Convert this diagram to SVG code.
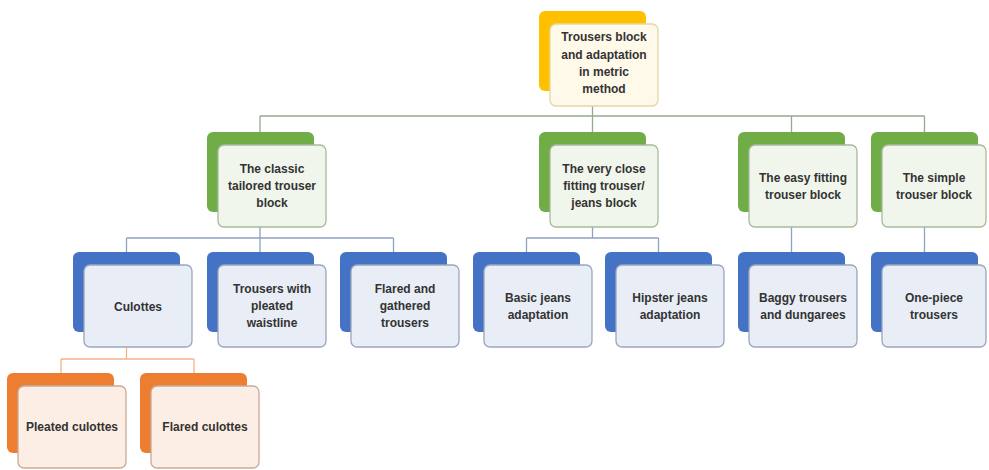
<svg xmlns="http://www.w3.org/2000/svg" width="989" height="470" viewBox="0 0 989 470">
<style>
text{font-family:"Liberation Sans",Arial,sans-serif;font-size:12px;font-weight:bold;fill:#333;text-anchor:middle}
.by{fill:#FFC000}.fy{fill:#FFF9EA;stroke:#E3D6A6;stroke-width:1.3}
.bg{fill:#70AD47}.fg{fill:#F1F6EC;stroke:#A9B99E;stroke-width:1.3}
.bb{fill:#4472C4}.fb{fill:#E8EDF6;stroke:#9BA6BC;stroke-width:1.3}
.bo{fill:#ED7D31}.fo{fill:#FCEEE4;stroke:#C8AB96;stroke-width:1.3}
.c1{stroke:#96A88E;stroke-width:1.3;fill:none}
.c2{stroke:#8FA0C4;stroke-width:1.3;fill:none}
.c3{stroke:#F2B48A;stroke-width:1.3;fill:none}
</style>
<rect width="989" height="470" fill="#fff"/>
<g id="connectors">
<path class="c1" d="M592.5 106V116M260 116H924.5M260 116V132M592.5 116V132M791.5 116V132M924.5 116V132"/>
<path class="c2" d="M260 227V238M126.5 238H393.5M126.5 238V252M260 238V252M393.5 238V252M592.5 227V238M526.5 238H658.5M526.5 238V252M658.5 238V252M791.5 227V252M924.5 227V252"/>
<path class="c3" d="M126.5 348V359M61 359H194M61 359V373M194 359V373"/>
</g>
<g id="n-root"><rect class="by" x="539" y="11" width="107" height="80" rx="6"/><rect class="fy" x="550" y="24" width="108" height="82" rx="6"/>
<text x="604" y="41">Trousers block</text><text x="604" y="59">and adaptation</text><text x="604" y="76">in metric</text><text x="604" y="93">method</text></g>
<g id="n-classic"><rect class="bg" x="207" y="132" width="107" height="80" rx="6"/><rect class="fg" x="218" y="145" width="108" height="82" rx="6"/>
<text x="272" y="173">The classic</text><text x="272" y="190">tailored trouser</text><text x="272" y="207">block</text></g>
<g id="n-close"><rect class="bg" x="539" y="132" width="107" height="80" rx="6"/><rect class="fg" x="550" y="145" width="108" height="82" rx="6"/>
<text x="604" y="173">The very close</text><text x="604" y="190">fitting trouser/</text><text x="604" y="207">jeans block</text></g>
<g id="n-easy"><rect class="bg" x="738" y="132" width="107" height="80" rx="6"/><rect class="fg" x="749" y="145" width="108" height="82" rx="6"/>
<text x="803" y="182">The easy fitting</text><text x="803" y="199">trouser block</text></g>
<g id="n-simple"><rect class="bg" x="871" y="132" width="107" height="80" rx="6"/><rect class="fg" x="882" y="145" width="104" height="82" rx="6"/>
<text x="934" y="182">The simple</text><text x="934" y="199">trouser block</text></g>
<g id="n-culottes"><rect class="bb" x="73" y="252" width="107" height="80" rx="6"/><rect class="fb" x="84" y="265" width="108" height="82" rx="6"/>
<text x="138" y="311">Culottes</text></g>
<g id="n-pleatedwaist"><rect class="bb" x="207" y="252" width="107" height="80" rx="6"/><rect class="fb" x="218" y="265" width="108" height="82" rx="6"/>
<text x="272" y="293">Trousers with</text><text x="272" y="310">pleated</text><text x="272" y="327">waistline</text></g>
<g id="n-flaredgathered"><rect class="bb" x="340" y="252" width="107" height="80" rx="6"/><rect class="fb" x="351" y="265" width="108" height="82" rx="6"/>
<text x="405" y="293">Flared and</text><text x="405" y="310">gathered</text><text x="405" y="327">trousers</text></g>
<g id="n-basicjeans"><rect class="bb" x="473" y="252" width="107" height="80" rx="6"/><rect class="fb" x="484" y="265" width="108" height="82" rx="6"/>
<text x="538" y="302">Basic jeans</text><text x="538" y="319">adaptation</text></g>
<g id="n-hipster"><rect class="bb" x="605" y="252" width="107" height="80" rx="6"/><rect class="fb" x="616" y="265" width="108" height="82" rx="6"/>
<text x="670" y="302">Hipster jeans</text><text x="670" y="319">adaptation</text></g>
<g id="n-baggy"><rect class="bb" x="738" y="252" width="107" height="80" rx="6"/><rect class="fb" x="749" y="265" width="108" height="82" rx="6"/>
<text x="803" y="302">Baggy trousers</text><text x="803" y="319">and dungarees</text></g>
<g id="n-onepiece"><rect class="bb" x="871" y="252" width="107" height="80" rx="6"/><rect class="fb" x="882" y="265" width="104" height="82" rx="6"/>
<text x="934" y="302">One-piece</text><text x="934" y="319">trousers</text></g>
<g id="n-pleatedcul"><rect class="bo" x="7" y="373" width="107" height="80" rx="6"/><rect class="fo" x="18" y="386" width="108" height="82" rx="6"/>
<text x="72" y="431">Pleated culottes</text></g>
<g id="n-flaredcul"><rect class="bo" x="140" y="373" width="107" height="80" rx="6"/><rect class="fo" x="151" y="386" width="108" height="82" rx="6"/>
<text x="205" y="431">Flared culottes</text></g>
</svg>
